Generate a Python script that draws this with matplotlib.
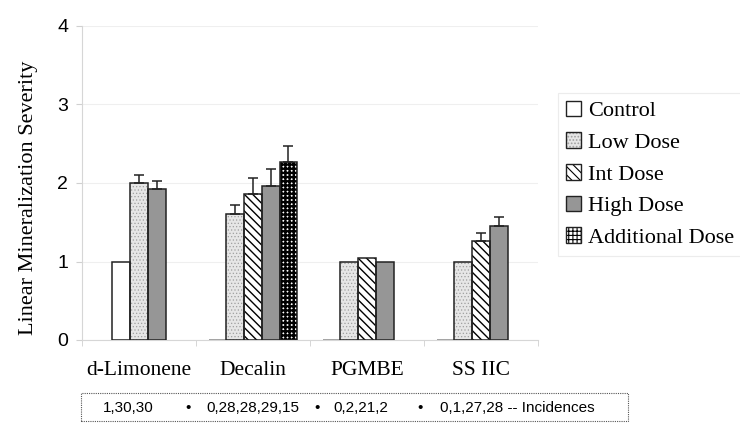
import numpy as np
import matplotlib
matplotlib.use('Agg')
import matplotlib.pyplot as plt
from matplotlib.patches import Patch, Rectangle

# Data
categories = ['d-Limonene', 'Decalin', 'PGMBE', 'SS IIC']
series = ['Control', 'Low Dose', 'Int Dose', 'High Dose', 'Additional Dose']
nan = np.nan
control = [1.0, 0.0, 0.0, 0.0]
low = [2.0, 1.6, 1.0, 1.0]
intd = [nan, 1.86, 1.05, 1.26]
high = [1.92, 1.96, 1.0, 1.45]
additional = [nan, 2.27, nan, nan]
control_err = [0.0, 0.0, 0.0, 0.0]
low_err = [0.1, 0.12, 0.0, 0.0]
intd_err = [nan, 0.2, 0.0, 0.1]
high_err = [0.11, 0.22, 0.0, 0.12]
additional_err = [nan, 0.2, nan, nan]
# d-Limonene bars start one slot to the right in the original chart
first_slot = [1, 0, 0, 0]
incidences = ['1,30,30', '0,28,28,29,15', '0,2,21,2', '0,1,27,28 -- Incidences']

values = [control, low, intd, high, additional]
errors = [control_err, low_err, intd_err, high_err, additional_err]

# fill, hatch, hatch colour, hatch linewidth
styles = [
    ('white', '', 'black', 0.8),
    ('#e6e6e6', '.....', '#a0a0a0', 0.5),
    ('white', '\\\\\\\\', 'black', 1.0),
    ('#969696', '', 'black', 0.8),
    ('white', '++++', 'black', 1.7),
]

plt.rcParams['font.family'] = 'Liberation Serif'
plt.rcParams['hatch.linewidth'] = 0.8

fig = plt.figure(figsize=(7.4, 4.3), dpi=100)
ax = fig.add_axes([82 / 740, 1 - 340 / 430, 456 / 740, 314 / 430])

w = 0.155
edge = '#222222'


def styled_bar(x, h, k):
    fc, hatch, hc, hlw = styles[k]
    b = ax.bar(x, h, w, color=fc, edgecolor=hc, linewidth=0, hatch=hatch,
               align='edge', zorder=2)
    for p in b:
        if hasattr(p, 'set_hatch_linewidth'):
            p.set_hatch_linewidth(hlw)
    ec = edge if h > 0 else '#8c8c8c'
    ax.bar(x, h, w, color='none', edgecolor=ec, linewidth=1.1,
           align='edge', zorder=3)


for i in range(len(categories)):
    slot = first_slot[i]
    for k in range(len(series)):
        v = values[k][i]
        if np.isnan(v):
            continue
        x = i + (slot - 2.5) * w
        styled_bar(x, v, k)
        e = errors[k][i]
        if e > 0:
            ax.errorbar(x + w / 2, v, yerr=[[0], [e]], fmt='none',
                        ecolor='#222222', elinewidth=1.1, capsize=3.5,
                        capthick=1.1, zorder=4)
        slot += 1

ax.set_xlim(-0.5, 3.5)
ax.set_ylim(0, 4)
ax.set_yticks([0, 1, 2, 3, 4])
ax.set_yticklabels(['0', '1', '2', '3', '4'], family='Liberation Sans',
                   fontsize=14)
ax.set_xticks(range(len(categories)))
ax.set_xticklabels(categories, fontsize=15.5)
ax.set_xticks(np.arange(-0.5, 4, 1), minor=True)
ax.tick_params(axis='x', which='major', length=0, pad=15)
ax.tick_params(axis='x', which='minor', length=4, color='#d0d0d0')
ax.tick_params(axis='y', length=4, color='#d0d0d0', pad=6)
ax.set_ylabel('Linear Mineralization Severity', fontsize=16)
ax.yaxis.set_label_coords(-0.118, 0.452)
ax.yaxis.label.set_va('center')
ax.yaxis.grid(True, color='#efefef', linewidth=0.8, zorder=0)
ax.set_axisbelow(True)
for s in ['top', 'right']:
    ax.spines[s].set_visible(False)
for s in ['left', 'bottom']:
    ax.spines[s].set_color('#d6d6d6')

# legend
handles = []
for k in range(len(series)):
    fc, hatch, hc, hlw = styles[k]
    p1 = Patch(facecolor=fc, edgecolor=hc, linewidth=0, hatch=hatch)
    if hasattr(p1, 'set_hatch_linewidth'):
        p1.set_hatch_linewidth(hlw)
    p2 = Patch(facecolor='none', edgecolor=edge, linewidth=1.0)
    handles.append((p1, p2))
leg = ax.legend(handles, series, loc='upper left',
                bbox_to_anchor=(558 / 740, 1 - 93 / 430),
                bbox_transform=fig.transFigure, borderaxespad=0,
                fontsize=16, handlelength=0.7, handleheight=0.7,
                handletextpad=0.3, labelspacing=0.5, borderpad=0.35,
                fancybox=False, framealpha=1)
leg.get_frame().set_edgecolor('#ececec')
leg.get_frame().set_linewidth(0.8)

# incidences box
fig.patches.append(Rectangle((81 / 740, 1 - 421 / 430), 547 / 740, 28 / 430,
                             transform=fig.transFigure, facecolor='none',
                             edgecolor='#555555', linewidth=0.8,
                             linestyle=(0, (1, 1))))
ty = 1 - 408 / 430
starts = [103, 206, 333, 440]
bullets = [188, 317, 420]
for s, t in zip(starts, incidences):
    fig.text(s / 740, ty, t, family='Liberation Sans', fontsize=11,
             va='center', ha='left')
for b in bullets:
    fig.text(b / 740, ty, '\u2022', family='Liberation Sans', fontsize=11,
             va='center', ha='center')

fig.savefig('out.png', dpi=100)
